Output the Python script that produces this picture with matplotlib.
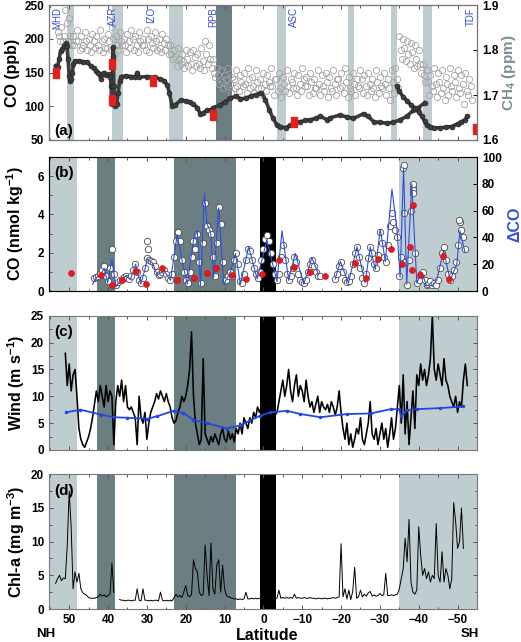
import numpy as np
import matplotlib
matplotlib.use("Agg")
import matplotlib.pyplot as plt
from matplotlib.ticker import MultipleLocator
from matplotlib.transforms import blended_transform_factory

plt.rcParams['font.family'] = ['Liberation Sans', 'DejaVu Sans']
plt.rcParams['font.weight'] = 'bold'
plt.rcParams['axes.labelweight'] = 'bold'
plt.rcParams['mathtext.fontset'] = 'custom'
plt.rcParams['mathtext.rm'] = 'Liberation Sans:bold'
plt.rcParams['mathtext.default'] = 'rm'

# ---------------- data ----------------
# (a) CO track (ppb), two legs
co1_lat = [53.5, 53.0, 52.6, 52.2, 51.8, 51.3, 50.9, 50.6, 50.3, 50.0,
           49.8, 49.5, 49.2, 48.9, 48.6, 47.5, 46.5, 45.3, 44.5, 43.6,
           43.0, 42.5, 41.9, 41.5, 41.0, 40.5, 39.8, 39.4, 39.2, 39.1,
           39.0, 38.9, 38.8, 38.7, 38.6, 38.5, 38.3, 38.1, 37.8, 37.4,
           37.0, 36.6, 35.5, 34.0, 33.0, 32.5, 32.0, 30.0, 28.0, 26.5,
           25.5, 24.8, 24.2, 23.5, 22.7, 21.3, 20.0, 18.8, 18.0, 17.0,
           16.2, 15.5, 14.5, 13.5, 12.9, 11.1, 10.0, 8.5, 7.0, 5.9,
           4.5, 3.3, 2.0, 0.5, -0.5, -1.5, -2.5, -3.5, -4.4, -5.7,
           -6.9, -8.2, -9.5, -10.8, -12.1, -13.5, -14.7, -16.4, -17.2, -19.8,
           -21.5, -23.2, -25.8, -27.0, -28.4, -30.0, -31.8, -33.4, -35.2, -36.9,
           -38.6, -39.9, -41.5]
co1_ppb = [160, 158, 170, 182, 185, 190, 193, 190, 170, 145,
           137, 140, 150, 162, 167, 167, 166, 165, 160, 156,
           152, 150, 141, 148, 150, 146, 148, 143, 130, 110,
           104, 130, 170, 188, 175, 130, 105, 100, 103, 120,
           138, 144, 145, 144, 143, 150, 143, 144, 143, 140,
           138, 132, 120, 100, 102, 109, 108, 106, 103, 98,
           88, 90, 94, 95, 98, 102, 106, 112, 115, 111,
           112, 115, 117, 120, 110, 95, 82, 72, 70, 68,
           72, 76, 77, 79, 80, 82, 85, 80, 83, 87,
           84, 82, 89, 85, 77, 76, 75, 76, 80, 85,
           94, 98, 105]
co2_lat = [-34.4, -35.0, -36.0, -37.0, -38.0, -39.0, -40.0, -40.8, -41.5, -42.0,
           -43.0, -44.0, -45.5, -47.0, -48.5, -50.0, -51.0, -52.0, -52.4]
co2_ppb = [130, 122, 114, 108, 102, 97, 91, 85, 78, 72,
           70, 68, 68, 69, 70, 74, 77, 80, 85]

stations = ['MHD', 'AZR', 'IZO', 'RPB', 'ASC', 'TDF']
station_lat = [53.2, 38.6, 29.0, 12.8, -7.8, -53.4]
stn_lat = [53.5, 38.9, 38.9, 28.4, 13.1, -8.0, -54.8]
stn_co = [150, 163, 109, 137, 87, 76, 66]

# (a) CH4 (ppm), three scatter rows on a 1-degree grid 53..-53
ch4_hi = [1.84, 1.85, 1.89, 1.87, 1.83, 1.845, 1.83, 1.84, 1.825, 1.835,
          1.83, 1.845, 1.825, 1.835, 1.85, 1.83, 1.84, 1.825, 1.835, 1.845,
          1.83, 1.84, 1.825, 1.845, 1.83, 1.84, 1.825, 1.835, 1.825, 1.81,
          1.80, 1.805, 1.79, 1.80, 1.795, 1.80, 1.79, 1.805, 1.82, 1.81,
          1.78, 1.76, 1.755, 1.745, 1.76, 1.74, 1.755, 1.745, 1.75, 1.76,
          1.74, 1.755, 1.735, 1.75, 1.745, 1.76, 1.735, 1.75, 1.74, 1.755,
          1.735, 1.75, 1.745, 1.76, 1.74, 1.75, 1.735, 1.755, 1.745, 1.75,
          1.74, 1.755, 1.735, 1.75, 1.76, 1.74, 1.75, 1.735, 1.755, 1.745,
          1.75, 1.735, 1.755, 1.74, 1.75, 1.735, 1.755, 1.76, 1.83, 1.825,
          1.82, 1.815, 1.81, 1.80, 1.77, 1.755, 1.745, 1.76, 1.75, 1.755,
          1.74, 1.76, 1.745, 1.755, 1.745, 1.75, 1.735]
ch4_mid = [1.83, 1.82, 1.86, 1.83, 1.81, 1.82, 1.805, 1.82, 1.81, 1.82,
           1.81, 1.82, 1.805, 1.82, 1.825, 1.81, 1.82, 1.81, 1.82, 1.825,
           1.81, 1.82, 1.81, 1.825, 1.815, 1.82, 1.805, 1.815, 1.81, 1.79,
           1.785, 1.78, 1.775, 1.78, 1.77, 1.785, 1.77, 1.775, 1.79, 1.78,
           1.75, 1.745, 1.73, 1.735, 1.725, 1.735, 1.72, 1.73, 1.725, 1.735,
           1.72, 1.73, 1.715, 1.725, 1.73, 1.72, 1.735, 1.715, 1.725, 1.72,
           1.73, 1.715, 1.725, 1.735, 1.72, 1.73, 1.715, 1.725, 1.72, 1.73,
           1.715, 1.725, 1.735, 1.72, 1.73, 1.715, 1.725, 1.72, 1.735, 1.72,
           1.725, 1.715, 1.73, 1.72, 1.725, 1.715, 1.73, 1.735, 1.80, 1.805,
           1.79, 1.795, 1.78, 1.77, 1.745, 1.73, 1.72, 1.725, 1.73, 1.715,
           1.725, 1.72, 1.73, 1.715, 1.725, 1.71, 1.72]
ch4_lo = [1.82, 1.83, 1.82, 1.81, 1.82, 1.80, 1.81, 1.80, 1.795, 1.805,
          1.80, 1.795, 1.805, 1.80, 1.79, 1.80, 1.81, 1.795, 1.805, 1.80,
          1.795, 1.81, 1.80, 1.795, 1.805, 1.80, 1.795, 1.80, 1.79, 1.78,
          1.765, 1.77, 1.76, 1.765, 1.755, 1.765, 1.76, 1.755, 1.77, 1.76,
          1.74, 1.725, 1.715, 1.72, 1.705, 1.715, 1.71, 1.72, 1.705, 1.715,
          1.705, 1.715, 1.70, 1.71, 1.72, 1.70, 1.71, 1.695, 1.71, 1.705,
          1.715, 1.70, 1.71, 1.72, 1.70, 1.705, 1.715, 1.70, 1.71, 1.695,
          1.71, 1.70, 1.715, 1.705, 1.695, 1.71, 1.70, 1.715, 1.705, 1.70,
          1.71, 1.695, 1.705, 1.715, 1.70, 1.69, 1.705, 1.715, 1.78, 1.775,
          1.77, 1.76, 1.765, 1.75, 1.73, 1.70, 1.71, 1.695, 1.705, 1.69,
          1.70, 1.71, 1.695, 1.705, 1.68, 1.70, 1.69]

# (b) dissolved CO (nmol/kg) on a 0.5-degree grid 43.5..-52
co_sw = [0.7, 0.75, 0.8, 0.9, 1.1, 1.3, 0.8, 0.5, 1.2, 2.2,
         0.9, 0.3, 0.45, 0.6, 0.65, 0.75, 0.8, 0.7, 0.65, 0.8,
         1.1, 1.4, 1.0, 0.6, 0.4, 0.7, 1.2, 1.7, 1.6, 1.55,
         1.5, 1.3, 1.0, 0.85, 0.9, 1.0, 1.1, 0.9, 0.7, 0.6,
         0.9, 1.8, 2.6, 3.1, 2.6, 1.6, 1.0, 0.6, 0.4, 1.0,
         1.8, 2.6, 2.2, 3.0, 1.5, 0.4, 2.5, 4.6, 3.4, 3.2,
         3.0, 1.8, 0.8, 2.5, 4.4, 3.5, 1.5, 0.5, 0.6, 0.8,
         1.0, 0.8, 1.6, 2.0, 1.4, 0.5, 0.4, 0.9, 1.6, 2.2,
         2.1, 1.6, 1.2, 0.9, 0.7, 1.0, 1.6, 2.2, 2.7, 2.9,
         2.6, 2.0, 1.4, 0.9, 0.56, 0.9, 1.8, 2.4, 1.6, 0.9,
         0.6, 0.8, 1.2, 1.8, 1.5, 0.9, 0.6, 0.45, 0.4, 0.6,
         1.0, 1.4, 1.6, 1.3, 1.0, 0.8, 0.8, np.nan, np.nan, np.nan,
         np.nan, np.nan, np.nan, np.nan, 0.65, 0.9, 1.3, 1.5, 1.0, 0.6,
         0.45, 0.5, 0.8, 1.4, 2.0, 2.3, 1.8, 1.2, 0.7, 0.4,
         0.9, 1.7, 2.3, 2.0, 1.4, 1.2, 1.9, 3.1, 2.5, 1.8,
         1.5, 2.4, 3.4, 4.1, 3.6, 3.2, 2.8, 0.8, 1.8, 6.4,
         1.5, 0.3, 1.6, 4.2, 5.4, 2.0, 0.4, 0.6, 0.9, 1.0,
         0.6, 0.3, 0.35, 0.5, 0.3, 0.4, 0.3, 0.6, 1.2, 2.0,
         2.3, 1.6, 0.9, 0.6, 0.8, 1.1, 1.5, 2.4, 3.6, 3.2,
         2.8, 2.2]
out_lat = [29.9, 29.7, -36.2, -36.1, -38.4, -38.5, -38.6, -50.4]
out_co = [2.6, 2.2, 6.56, 4.1, 5.6, 5.3, 5.1, 3.7]

dco_lat = [44.0, 43.0, 41.9, 41.0, 40.1, 39.0, 38.0, 36.8, 35.5, 34.2,
           32.9, 31.6, 30.5, 29.9, 28.6, 27.3, 25.6, 23.9, 22.2, 20.9,
           19.6, 17.9, 17.0, 16.2, 15.2, 14.5, 13.6, 12.8, 11.5, 10.2,
           8.5, 7.2, 5.9, 3.8, 1.6, -0.9, -3.5, -4.8, -6.5, -8.2,
           -10.4, -12.5, -14.2, -15.0, -18.5, -19.8, -21.9, -24.1, -26.2, -27.5,
           -28.8, -30.1, -31.4, -33.1, -34.4, -35.2, -36.1, -36.9, -38.2, -39.5,
           -40.8, -42.0, -43.5, -44.6, -46.4, -48.1, -49.8, -50.6, -51.9]
dco = [5, 10, 12, 17, 6, 24, 3, 8, 11, 9,
       20, 5, 16, 24, 21, 12, 15, 8, 42, 22,
       5, 40, 45, 4, 73, 50, 44, 10, 62, 5,
       14, 28, 5, 33, 9, 38, 7, 45, 8, 28,
       5, 25, 12, np.nan, 9, 22, 6, 33, 6, 33,
       16, 46, 22, 76, 46, 10, 92, 5, 80, 6,
       14, 4, 4, 8, 30, 8, 20, 45, 29]

red_lat = [49.6, 41.9, 38.9, 36.3, 32.9, 30.2, 26.0, 22.2, 17.9, 14.5,
           12.3, 8.2, 4.4, 0.3, -3.9, -7.8, -11.9, -15.9, -23.7, -26.5,
           -29.6, -32.8, -35.8, -37.8, -38.2, -38.5, -40.2, -46.2, -47.8]
red_co = [0.94, 0.82, 0.3, 0.6, 1.05, 0.37, 1.22, 0.56, 0.66, 0.95,
          1.2, 0.82, 0.65, 0.9, 1.6, 1.26, 0.98, 0.77, 1.47, 0.7,
          1.68, 2.17, 1.4, 2.3, 1.12, 4.48, 0.84, 1.82, 0.63]

# (c) wind speed (m/s) on a 0.5-degree grid 51..-52.5
wind = [18, 12, 16, 11, 14, 15, 10, 4, 2, 1,
        0.5, 1.5, 2.5, 4, 6, 8.5, 11, 9, 12, 10,
        8, 12, 9, 11, 10, 1, 9, 12, 10, 13,
        9, 12, 8, 7.5, 8, 7, 6, 1, 10, 6,
        5, 7, 2, 5, 7, 8, 9, 10.5, 9.5, 11,
        10, 9, 10.5, 9, 8, 6, 5, 5.5, 7, 8,
        10, 9, 10, 12, 15, 22, 10, 5, 3, 1,
        2, 17, 3, 2, 1, 2.5, 1.5, 3, 2, 1,
        3, 4, 2, 1.5, 3.5, 2, 3, 1.5, 4, 3,
        5, 3, 6, 5, 4, 6, 5, 7, 6, 8,
        7, 8, 6, 7, 5.5, 7, 6, 8, 6.5, 7,
        9, 11, 13, 10, 12, 15, 11, 9, 12, 14,
        10, 12, 11, 9, 13, 10, 8, 9, 7, 8.5,
        10, 7, 9, 8, 7.5, 8.5, 7, 9, 8, 6.5,
        8, 11, 7, 4, 2, 5, 1, 3, 0.5, 2,
        4, 3, 6, 2, 1, 3, 5, 9, 3, 2,
        4, 1, 3, 5, 2, 4, 0.5, 3, 6, 2,
        4, 8, 12, 5, 14, 3, 9, 1, 6, 11,
        4, 14, 12, 16, 13, 15, 12, 14, 17, 25,
        15, 13, 16, 14, 12, 17, 13, 12, 10, 9,
        8, 10, 7, 9, 8, 13, 16, 12]
wavg_lat = [50.9, 47.1, 41.9, 38.5, 35.0, 29.9, 27.3, 23.1, 20.6, 18.0,
            14.5, 9.4, 5.9, 0.8, -1.8, -6.1, -9.5, -14.7, -21.6, -27.6,
            -32.8, -35.0, -35.4, -37.0, -39.5, -45.5, -51.5]
wavg = [7.0, 7.5, 6.6, 6.1, 6.0, 5.8, 6.3, 7.3, 6.9, 5.6,
        5.0, 4.0, 4.6, 6.4, 7.0, 7.3, 6.7, 6.1, 6.7, 6.8,
        7.6, 7.6, 6.3, 7.4, 7.6, 7.8, 8.1]

# (d) chlorophyll-a (mg/m3) on a 0.5-degree grid 53.5..-51.5
chl = [3.8, 4.5, 5.0, 4.2, 4.6, 4.5, 9.5, 17.5, 12.2, 3.0,
       5.5, 4.0, 5.3, 3.0, 2.4, 2.2, 2.0, 1.7, 1.6, 1.6,
       1.6, 1.7, 1.8, 2.2, 1.9, 2.1, 1.8, 2.0, 2.2, 6.8,
       2.5, np.nan, np.nan, 1.4, 1.3, 1.3, 1.2, 1.3, 1.3, 1.2,
       1.3, 1.3, 3.0, 1.3, 1.2, 3.0, 1.3, 1.3, 1.2, 1.3,
       1.2, 1.3, 1.3, 1.2, 2.5, 1.3, 1.2, 1.3, 1.2, 1.3,
       1.2, 1.7, 2.2, 1.8, 2.0, 1.7, 2.5, 3.5, 2.0, 1.8,
       2.2, 7.3, 6.0, 5.5, 2.5, 2.0, 2.2, 9.5, 5.0, 2.0,
       9.8, 3.0, 2.2, 6.5, 7.3, 2.5, 6.5, 3.0, 2.0, 1.8,
       1.7, 1.6, 1.5, 1.5, 1.4, 1.5, 1.4, 1.5, 2.5, 1.5,
       1.5, 1.6, 1.5, 1.6, 1.5, 1.6, 1.5, 1.5, 1.6, 1.5,
       1.5, 1.6, 1.5, 1.5, 1.6, 2.8, 1.6, 1.7, 1.6, 1.7,
       1.6, 1.7, 1.6, 2.2, 1.6, 1.7, 1.6, 1.6, 1.7, 1.6,
       1.6, 1.7, 1.6, 1.6, 1.5, 1.6, 1.6, 1.5, 1.6, 1.6,
       1.5, 1.6, 1.6, 1.7, 1.6, 1.7, 1.8, 9.7, 1.8, 3.0,
       1.5, 2.8, 1.4, 2.6, 6.2, 1.6, 1.8, 2.8, 1.8, 2.2,
       1.9, 2.4, 2.6, 1.9, 2.1, 1.9, 2.0, 2.3, 2.0, 2.1,
       5.3, 2.0, 2.0, 2.1, 2.0, 2.1, 2.2, 3.0, 4.5, 6.0,
       10.5, 7.0, 13.3, 4.0, 2.5, 2.2, 2.8, 12.2, 8.0, 5.0,
       6.0, 4.5, 5.5, 4.0, 5.0, 4.5, 12.7, 5.0, 4.0, 8.5,
       4.0, 6.0, 5.0, 3.0, 4.5, 15.8, 13.0, 9.0, 10.0, 15.0,
       9.0]

# ---------------- figure ----------------
LIGHT = '#bfcdd1'
DARK = '#6b7e81'
XLIM = (55.2, -55.0)
bands_a = [(50.6, 48.8, LIGHT), (39.1, 36.2, LIGHT), (24.2, 20.8, LIGHT),
           (12.1, 8.0, DARK), (-3.6, -5.9, LIGHT), (-21.9, -23.4, LIGHT),
           (-32.9, -34.4, LIGHT), (-41.1, -43.4, LIGHT)]
bands = [(55.2, 48.1, LIGHT), (42.8, 38.1, DARK), (22.9, 7.0, DARK),
         (0.95, -3.3, 'black'), (-35.0, -55.0, LIGHT)]

fig = plt.figure(figsize=(5.21, 6.42), dpi=100)


def pos(top, bot):
    return [49 / 521, 1 - bot / 642, 428 / 521, (bot - top) / 642]


axa = fig.add_axes(pos(5, 140))
axb = fig.add_axes(pos(157, 291))
axc = fig.add_axes(pos(315.7, 450))
axd = fig.add_axes(pos(474.3, 609))


def style(ax, right=True):
    ax.set_xlim(XLIM)
    ax.xaxis.set_major_locator(MultipleLocator(10))
    ax.xaxis.set_minor_locator(MultipleLocator(5))
    ax.tick_params(which='both', direction='in', top=True, right=right,
                   labelsize=8.5, width=0.7, color='#555555')
    ax.tick_params(which='major', length=3)
    ax.tick_params(which='minor', length=1.8)
    for s in ax.spines.values():
        s.set_color('#777777')
        s.set_linewidth(0.8)


# ---- (a)
axa2 = axa.twinx()
axa.set_zorder(axa2.get_zorder() + 1)
axa.patch.set_visible(False)
for x0, x1, c in bands_a:
    axa2.axvspan(x0, x1, color=c, lw=0, zorder=0)
lat1 = np.arange(53, -54, -1.0)
for vals, off in [(ch4_hi, 0.0), (ch4_mid, -0.33), (ch4_lo, -0.66)]:
    axa2.plot(lat1 + off, vals, 'o', mfc='none', mec='#a3a3a3', ms=4.5, mew=0.6)
axa2.set_ylim(1.6, 1.9)
axa2.set_yticks([1.6, 1.7, 1.8, 1.9])
axa2.tick_params(direction='in', labelsize=8.5, length=3, width=0.7)
axa2.set_ylabel('CH$_4$ (ppm)', color='#7d8e93', fontsize=11, labelpad=1)
for ln_lat, ln_co in [(co1_lat, co1_ppb), (co2_lat, co2_ppb)]:
    axa.plot(ln_lat, ln_co, '-o', color='#3d3d3d', lw=2.6, ms=3.6,
             mec='#1e1e1e', mew=0.4)
rect = [(-0.35, -0.5), (0.35, -0.5), (0.35, 0.5), (-0.35, 0.5), (-0.35, -0.5)]
axa.plot(stn_lat, stn_co, ls='none', marker=rect, ms=6.5, color='#e3201b')
trans = blended_transform_factory(axa.transData, axa.transAxes)
for name, lat in zip(stations, station_lat):
    axa.text(lat, 0.985, name, transform=trans, rotation=90, ha='center',
             va='top', fontsize=7, color='#3b50d0', fontweight='normal')
axa.set_ylim(50, 250)
axa.set_yticks([50, 100, 150, 200, 250])
axa.set_ylabel('CO (ppb)', fontsize=11.5, labelpad=3)
axa.text(0.012, 0.04, '(a)', transform=axa.transAxes, fontsize=11)
style(axa, right=False)
axa.set_xticklabels([])

# ---- (b)
for x0, x1, c in bands:
    axb.axvspan(x0, x1, color=c, lw=0, zorder=0)
latb = np.linspace(43.5, -52.0, len(co_sw))
axb.plot(latb, co_sw, 'o', mfc='white', mec='#4a4a4a', ms=4.6, mew=0.6)
axb.plot(out_lat, out_co, 'o', mfc='white', mec='#4a4a4a', ms=4.6, mew=0.6)
axb.set_ylim(0, 7)
axb.set_yticks([0, 2, 4, 6])
axb.yaxis.set_minor_locator(MultipleLocator(1))
axb.set_ylabel('CO (nmol kg$^{-1}$)', fontsize=11.5, labelpad=8)
axb.text(0.012, 0.93, '(b)', transform=axb.transAxes, fontsize=11, va='top')
style(axb, right=False)
axb.set_xticklabels([])
axb2 = axb.twinx()
axb2.plot(dco_lat, dco, '-', color='#2f4fdc', lw=0.8)
axb2.set_ylim(0, 100)
axb2.set_yticks([0, 20, 40, 60, 80, 100])
axb2.tick_params(direction='in', labelsize=8.5, length=3, width=0.7)
axb2.set_ylabel('\u0394CO', color='#3550d6', fontsize=11.5, labelpad=4)
axb3 = axb.twinx()
axb3.plot(red_lat, red_co, 'o', color='#e8181c', ms=4.3, mec='#c01010', mew=0.4)
axb3.set_ylim(0, 7)
axb3.axis('off')

# ---- (c)
for x0, x1, c in bands:
    axc.axvspan(x0, x1, color=c, lw=0, zorder=0)
latc = np.linspace(51.0, -52.5, len(wind))
axc.plot(latc, wind, '-', color='black', lw=1.15)
axc.plot(wavg_lat, wavg, '-o', color='#2346e0', lw=1.3, ms=1.5)
axc.set_ylim(0, 25)
axc.set_yticks([0, 5, 10, 15, 20, 25])
axc.yaxis.set_minor_locator(MultipleLocator(2.5))
axc.set_ylabel('Wind (m s$^{-1}$)', fontsize=11.5, labelpad=3)
axc.text(0.012, 0.93, '(c)', transform=axc.transAxes, fontsize=11, va='top')
style(axc)
axc.set_xticklabels([])

# ---- (d)
for x0, x1, c in bands:
    axd.axvspan(x0, x1, color=c, lw=0, zorder=0)
latd = np.linspace(53.5, -51.5, len(chl))
axd.plot(latd, chl, '-', color='black', lw=0.7)
axd.set_ylim(0, 20)
axd.set_yticks([0, 5, 10, 15, 20])
axd.yaxis.set_minor_locator(MultipleLocator(2.5))
axd.set_ylabel('Chl-a (mg m$^{-3}$)', fontsize=11.5, labelpad=3)
axd.text(0.012, 0.93, '(d)', transform=axd.transAxes, fontsize=11, va='top')
style(axd)
axd.set_xticks([50, 40, 30, 20, 10, 0, -10, -20, -30, -40, -50])

fig.text(45.5 / 521, 1 - 634 / 642, 'NH', ha='center', va='center', fontsize=9.5)
fig.text(470 / 521, 1 - 634 / 642, 'SH', ha='center', va='center', fontsize=9.5)
fig.text(267 / 521, 1 - 636 / 642, 'Latitude', ha='center', va='center', fontsize=11.5)

fig.savefig('out.png', dpi=100)
